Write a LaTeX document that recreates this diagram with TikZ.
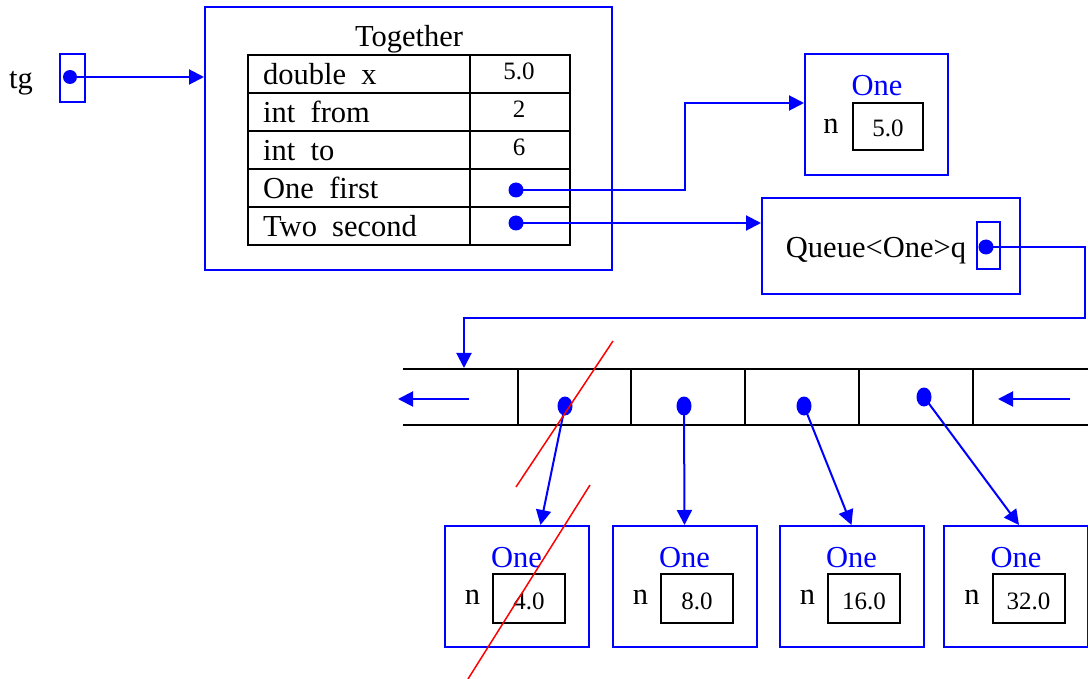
\documentclass[tikz,border=0pt]{standalone}
\usepackage{fontspec}
\setmainfont{Liberation Serif}
\usetikzlibrary{arrows.meta,shapes.geometric,calc}

\begin{document}
\begin{tikzpicture}[x=1pt,y=-1pt,
  big/.style={font=\fontsize{30.5}{32}\selectfont, inner sep=0pt},
  small/.style={font=\fontsize{25}{27}\selectfont, inner sep=0pt},
  bluebox/.style={draw=blue, line width=2pt, rectangle, inner sep=0pt},
  cell/.style={draw=black, line width=2pt, rectangle, inner sep=0pt},
  dot/.style={circle, fill=blue, inner sep=0pt, minimum size=15pt},
  qdot/.style={ellipse, fill=blue, inner sep=0pt, minimum width=15pt, minimum height=19pt},
  link/.style={draw=blue, line width=2pt},
  arr/.style={link, -{Triangle[length=15pt,width=15pt]}},
  cross/.style={draw=red, line width=1.5pt},
  bar/.style={draw=black, line width=2pt}]

\useasboundingbox (0,0) rectangle (1088,679);

% ---- reference tg ----
\node[big, anchor=base] (tglabel) at (21,89) {tg};
\node[bluebox, minimum width=25pt, minimum height=48pt] (tgbox) at (72.5,78) {};
\node[dot, minimum size=14pt] (tgdot) at (70,77) {};

% ---- object Together ----
\node[bluebox, minimum width=407pt, minimum height=263pt] (together) at (408.5,138.5) {};
\node[big, anchor=base] (title) at (409,47) {Together};

\foreach \i/\name/\val [count=\k] in {74/{double\hspace{0.5em}x}/5.0, 112/{int\hspace{0.5em}from}/2, 150/{int\hspace{0.5em}to}/6, 188/{One\hspace{0.5em}first}/{}, 226/{Two\hspace{0.5em}second}/{}}{
  \node[cell, minimum width=222pt, minimum height=38pt] (fl\k) at (359,\i) {};
  \node[cell, minimum width=100pt, minimum height=38pt] (fr\k) at (520,\i) {};
  \node[big, anchor=base west] at (263,\i+11) {\name};
  \node[small, anchor=base] at (519,\i+6) {\val};
}
\node[dot] (d1) at (516,190) {};
\node[dot] (d2) at (516,223) {};

% ---- object One (first) ----
\node[bluebox, minimum width=143pt, minimum height=121pt] (one) at (876.5,114.5) {};
\node[big, anchor=base, text=blue] (onet) at (877,96) {One};
\node[big, anchor=base] (onen) at (831,134) {n};
\node[cell, minimum width=70pt, minimum height=47pt] (onev) at (888,126.5) {};
\node[small, anchor=base] at (888,137) {5.0};

% ---- object Queue ----
\node[bluebox, minimum width=258pt, minimum height=96pt] (q) at (891,246) {};
\node[big, anchor=base] (qtext) at (876,258) {Queue<One>q};
\node[bluebox, minimum width=23pt, minimum height=47pt] (qbox) at (988.5,245.5) {};
\node[dot] (qdot) at (986,247) {};

% ---- links from Together ----
\coordinate (bend1) at (685,103);
\draw[arr] (tgdot.center) -- (together.west |- tgdot);
\draw[arr] (d1.center) -| (bend1) -- (one.west |- bend1);
\draw[arr] (d2.center) -- (q.west |- d2);

% ---- queue storage ----
\draw[bar] (403,369) -- (1088,369);
\draw[bar] (403,425) -- (1088,425);
\foreach \x in {518,631,745,859,973}{
  \draw[black, line width=2pt] (\x,369) -- (\x,425);
}
\coordinate (qr) at (1085,318);
\coordinate (qin) at (464,368);
\draw[arr] (qdot.center) -| (qr) -| (qin);

\coordinate (outA) at (469,399);
\coordinate (outB) at (398,399);
\coordinate (inA) at (1070,399);
\coordinate (inB) at (998,399);
\draw[arr] (outA) -- (outB);
\draw[arr] (inA) -- (inB);

% ---- queued One objects ----
\foreach \c/\v [count=\k] in {516.5/4.0, 684.5/8.0, 851.5/16.0, 1016/32.0}{
  \node[bluebox, minimum width=144pt, minimum height=121pt] (b\k) at (\c,586.5) {};
  \node[big, anchor=base, text=blue] at (\c,567) {One};
  \node[big, anchor=base] at (\c-44,604) {n};
  \node[cell, minimum width=72pt, minimum height=49pt] (v\k) at (\c+12.5,598.5) {};
  \node[small, anchor=base] at (\c+12.5,609) {\v};
}

\node[qdot] (qd1) at (565,406) {};
\node[qdot] (qd2) at (684,406) {};
\node[qdot] (qd3) at (804,406) {};
\node[qdot] (qd4) at (924,397) {};

\draw[arr] (qd1.center) -- ([xshift=24pt]b1.north);
\draw[arr] (qd2.center) -- (b2.north);
\draw[arr] (qd3.center) -- (b3.north);
\draw[arr] (qd4.center) -- ([xshift=3pt]b4.north);

% ---- crossed out head element ----
\coordinate (x1a) at (613,341);
\coordinate (x1b) at (516,487);
\coordinate (x2a) at (590,485);
\coordinate (x2b) at (468,679);
\draw[cross] (x1a) -- (x1b);
\draw[cross] (x2a) -- (x2b);

\end{tikzpicture}
\end{document}
